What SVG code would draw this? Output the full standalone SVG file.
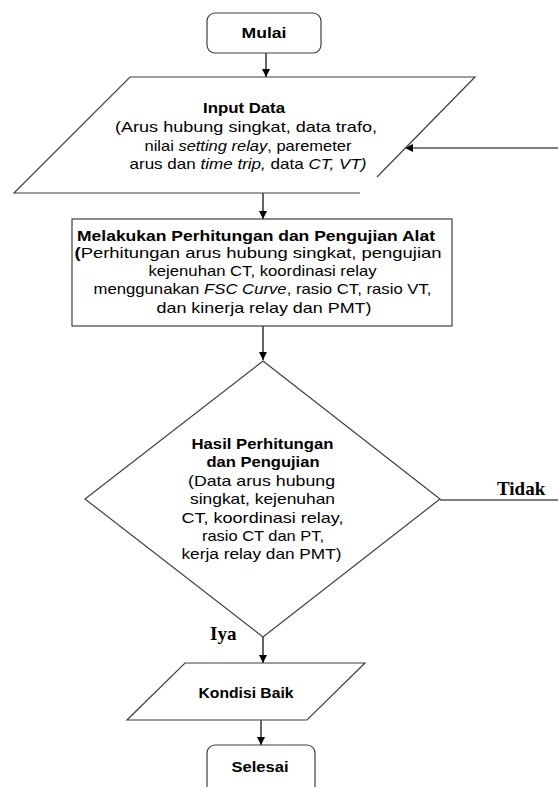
<svg xmlns="http://www.w3.org/2000/svg" width="558" height="787" viewBox="0 0 558 787">
<defs>
<marker id="ah" viewBox="0 0 10 10" refX="10" refY="5" markerWidth="8" markerHeight="8" markerUnits="userSpaceOnUse" orient="auto">
<path d="M0,0 L10,5 L0,10 Z" fill="#000"/>
</marker>
<style>
.shape{fill:#fff;stroke:#404040;stroke-width:1.2}
.conn{fill:none;stroke:#000;stroke-width:1.2}
.t{font-family:"Liberation Sans",Arial,sans-serif;font-size:15px;fill:#000;text-anchor:middle}
.b{font-weight:bold}
.i{font-style:italic}
.lbl{font-family:"Liberation Serif","Times New Roman",serif;font-weight:bold;font-size:19px;fill:#000}
</style>
</defs>
<rect width="558" height="787" fill="#fff"/>
<g id="connectors">
<line class="conn" x1="266" y1="53" x2="266" y2="77" marker-end="url(#ah)"/>
<line class="conn" x1="263" y1="193" x2="263" y2="219" marker-end="url(#ah)"/>
<line class="conn" x1="263" y1="326" x2="263" y2="360" marker-end="url(#ah)"/>
<line class="conn" x1="263" y1="637" x2="263" y2="663" marker-end="url(#ah)"/>
<line class="conn" x1="261" y1="720" x2="261" y2="745" marker-end="url(#ah)"/>
<line class="conn" x1="440" y1="500" x2="558" y2="500" stroke="#404040"/>
<line class="conn" x1="558" y1="148" x2="405" y2="148" marker-end="url(#ah)"/>
<text class="lbl" x="497" y="495">Tidak</text>
<text class="lbl" x="210" y="640">Iya</text>
</g>
<g id="mulai">
<rect class="shape" x="207" y="13" width="114" height="40" rx="8"/>
<text class="t b" x="264" y="38" textLength="45" lengthAdjust="spacingAndGlyphs">Mulai</text>
</g>
<g id="input-data">
<path class="shape" d="M377,177 L475,77 L130,77 L14,193 L360,193"/>
<text class="t b" x="244" y="113" textLength="82" lengthAdjust="spacingAndGlyphs">Input Data</text>
<text class="t" x="246" y="131.5" textLength="262" lengthAdjust="spacingAndGlyphs">(Arus hubung singkat, data trafo,</text>
<text class="t" x="248" y="150.5" textLength="207" lengthAdjust="spacingAndGlyphs">nilai <tspan class="i">setting relay</tspan>, paremeter</text>
<text class="t" x="248" y="169" textLength="237" lengthAdjust="spacingAndGlyphs">arus dan <tspan class="i">time trip,</tspan> data <tspan class="i">CT, VT)</tspan></text>
</g>
<g id="proses">
<rect class="shape" x="72" y="219" width="380" height="107"/>
<text class="t b" x="256" y="240.5" textLength="358" lengthAdjust="spacingAndGlyphs">Melakukan Perhitungan dan Pengujian Alat</text>
<text class="t" x="258" y="258" textLength="367" lengthAdjust="spacingAndGlyphs"><tspan class="b">(</tspan>Perhitungan arus hubung singkat, pengujian</text>
<text class="t" x="262.5" y="276" textLength="228" lengthAdjust="spacingAndGlyphs">kejenuhan CT, koordinasi relay</text>
<text class="t" x="262.5" y="294" textLength="338" lengthAdjust="spacingAndGlyphs">menggunakan <tspan class="i">FSC Curve</tspan>, rasio CT, rasio VT,</text>
<text class="t" x="264" y="312.5" textLength="215" lengthAdjust="spacingAndGlyphs">dan kinerja relay dan PMT)</text>
</g>
<g id="keputusan">
<polygon class="shape" points="263,361 440,499 263,637 85,499"/>
<text class="t b" x="262.5" y="449" textLength="142" lengthAdjust="spacingAndGlyphs">Hasil Perhitungan</text>
<text class="t b" x="263" y="467" textLength="113" lengthAdjust="spacingAndGlyphs">dan Pengujian</text>
<text class="t" x="261.5" y="485.5" textLength="147" lengthAdjust="spacingAndGlyphs">(Data arus hubung</text>
<text class="t" x="262.5" y="504" textLength="145" lengthAdjust="spacingAndGlyphs">singkat, kejenuhan</text>
<text class="t" x="262.5" y="522.5" textLength="162" lengthAdjust="spacingAndGlyphs">CT, koordinasi relay,</text>
<text class="t" x="263" y="541" textLength="122" lengthAdjust="spacingAndGlyphs">rasio CT dan PT,</text>
<text class="t" x="261.5" y="559" textLength="160" lengthAdjust="spacingAndGlyphs">kerja relay dan PMT)</text>
</g>
<g id="kondisi-baik">
<polygon class="shape" points="185,663 365,663 307,720 127,720"/>
<text class="t b" x="246" y="698" textLength="95" lengthAdjust="spacingAndGlyphs">Kondisi Baik</text>
</g>
<g id="selesai">
<rect class="shape" x="207" y="745" width="108" height="60" rx="8"/>
<text class="t b" x="260" y="772" textLength="57" lengthAdjust="spacingAndGlyphs">Selesai</text>
</g>
</svg>
